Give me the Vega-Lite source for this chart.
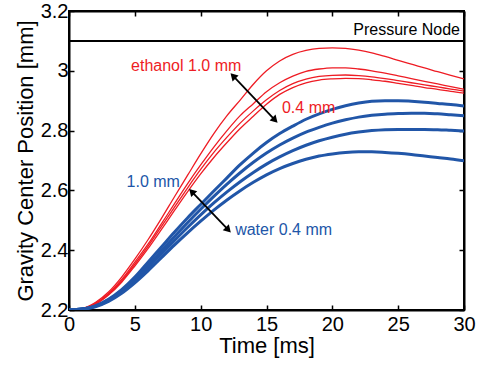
{
  "$schema": "https://vega.github.io/schema/vega-lite/v6.json",
  "width": 395,
  "height": 299,
  "autosize": {"type": "none"},
  "padding": {"left": 69, "top": 11, "right": 17, "bottom": 57},
  "background": "white",
  "config": {
    "view": {"stroke": "black", "strokeWidth": 2},
    "font": "Liberation Sans",
    "axis": {
      "domainColor": "black", "domainWidth": 2,
      "tickColor": "black", "tickWidth": 1.5, "tickSize": -5,
      "labelColor": "black", "titleColor": "black",
      "labelFont": "Liberation Sans", "titleFont": "Liberation Sans",
      "labelFontSize": 20, "titleFontSize": 22, "titleFontWeight": "normal",
      "grid": false, "labelFlush": false, "labelOverlap": false
    }
  },
  "datasets": {
    "curves": [
      {"s":"R1","f":"ethanol","t":0,"v":2.2},{"s":"R1","f":"ethanol","t":1,"v":2.205},{"s":"R1","f":"ethanol","t":2,"v":2.225},{"s":"R1","f":"ethanol","t":3,"v":2.26},{"s":"R1","f":"ethanol","t":4,"v":2.31},{"s":"R1","f":"ethanol","t":5,"v":2.37},{"s":"R1","f":"ethanol","t":6,"v":2.435},{"s":"R1","f":"ethanol","t":7,"v":2.505},{"s":"R1","f":"ethanol","t":8,"v":2.578},{"s":"R1","f":"ethanol","t":9,"v":2.65},{"s":"R1","f":"ethanol","t":10,"v":2.722},{"s":"R1","f":"ethanol","t":11,"v":2.79},{"s":"R1","f":"ethanol","t":12,"v":2.85},{"s":"R1","f":"ethanol","t":13,"v":2.902},{"s":"R1","f":"ethanol","t":14,"v":2.955},{"s":"R1","f":"ethanol","t":15,"v":3.0},{"s":"R1","f":"ethanol","t":16,"v":3.033},{"s":"R1","f":"ethanol","t":17,"v":3.055},{"s":"R1","f":"ethanol","t":18,"v":3.068},{"s":"R1","f":"ethanol","t":19,"v":3.075},{"s":"R1","f":"ethanol","t":20,"v":3.077},{"s":"R1","f":"ethanol","t":21,"v":3.075},{"s":"R1","f":"ethanol","t":22,"v":3.069},{"s":"R1","f":"ethanol","t":23,"v":3.06},{"s":"R1","f":"ethanol","t":24,"v":3.048},{"s":"R1","f":"ethanol","t":25,"v":3.035},{"s":"R1","f":"ethanol","t":26,"v":3.022},{"s":"R1","f":"ethanol","t":27,"v":3.01},{"s":"R1","f":"ethanol","t":28,"v":2.997},{"s":"R1","f":"ethanol","t":29,"v":2.985},{"s":"R1","f":"ethanol","t":30,"v":2.973},
      {"s":"R2","f":"ethanol","t":0,"v":2.2},{"s":"R2","f":"ethanol","t":1,"v":2.204},{"s":"R2","f":"ethanol","t":2,"v":2.222},{"s":"R2","f":"ethanol","t":3,"v":2.255},{"s":"R2","f":"ethanol","t":4,"v":2.302},{"s":"R2","f":"ethanol","t":5,"v":2.36},{"s":"R2","f":"ethanol","t":6,"v":2.42},{"s":"R2","f":"ethanol","t":7,"v":2.487},{"s":"R2","f":"ethanol","t":8,"v":2.555},{"s":"R2","f":"ethanol","t":9,"v":2.622},{"s":"R2","f":"ethanol","t":10,"v":2.685},{"s":"R2","f":"ethanol","t":11,"v":2.745},{"s":"R2","f":"ethanol","t":12,"v":2.8},{"s":"R2","f":"ethanol","t":13,"v":2.85},{"s":"R2","f":"ethanol","t":14,"v":2.89},{"s":"R2","f":"ethanol","t":15,"v":2.93},{"s":"R2","f":"ethanol","t":16,"v":2.96},{"s":"R2","f":"ethanol","t":17,"v":2.982},{"s":"R2","f":"ethanol","t":18,"v":2.998},{"s":"R2","f":"ethanol","t":19,"v":3.006},{"s":"R2","f":"ethanol","t":20,"v":3.01},{"s":"R2","f":"ethanol","t":21,"v":3.01},{"s":"R2","f":"ethanol","t":22,"v":3.006},{"s":"R2","f":"ethanol","t":23,"v":3.0},{"s":"R2","f":"ethanol","t":24,"v":2.992},{"s":"R2","f":"ethanol","t":25,"v":2.983},{"s":"R2","f":"ethanol","t":26,"v":2.974},{"s":"R2","f":"ethanol","t":27,"v":2.965},{"s":"R2","f":"ethanol","t":28,"v":2.956},{"s":"R2","f":"ethanol","t":29,"v":2.947},{"s":"R2","f":"ethanol","t":30,"v":2.938},
      {"s":"R3","f":"ethanol","t":0,"v":2.2},{"s":"R3","f":"ethanol","t":1,"v":2.204},{"s":"R3","f":"ethanol","t":2,"v":2.22},{"s":"R3","f":"ethanol","t":3,"v":2.252},{"s":"R3","f":"ethanol","t":4,"v":2.297},{"s":"R3","f":"ethanol","t":5,"v":2.353},{"s":"R3","f":"ethanol","t":6,"v":2.413},{"s":"R3","f":"ethanol","t":7,"v":2.478},{"s":"R3","f":"ethanol","t":8,"v":2.543},{"s":"R3","f":"ethanol","t":9,"v":2.608},{"s":"R3","f":"ethanol","t":10,"v":2.67},{"s":"R3","f":"ethanol","t":11,"v":2.727},{"s":"R3","f":"ethanol","t":12,"v":2.778},{"s":"R3","f":"ethanol","t":13,"v":2.825},{"s":"R3","f":"ethanol","t":14,"v":2.866},{"s":"R3","f":"ethanol","t":15,"v":2.903},{"s":"R3","f":"ethanol","t":16,"v":2.934},{"s":"R3","f":"ethanol","t":17,"v":2.957},{"s":"R3","f":"ethanol","t":18,"v":2.972},{"s":"R3","f":"ethanol","t":19,"v":2.981},{"s":"R3","f":"ethanol","t":20,"v":2.985},{"s":"R3","f":"ethanol","t":21,"v":2.986},{"s":"R3","f":"ethanol","t":22,"v":2.984},{"s":"R3","f":"ethanol","t":23,"v":2.98},{"s":"R3","f":"ethanol","t":24,"v":2.974},{"s":"R3","f":"ethanol","t":25,"v":2.967},{"s":"R3","f":"ethanol","t":26,"v":2.96},{"s":"R3","f":"ethanol","t":27,"v":2.953},{"s":"R3","f":"ethanol","t":28,"v":2.946},{"s":"R3","f":"ethanol","t":29,"v":2.939},{"s":"R3","f":"ethanol","t":30,"v":2.932},
      {"s":"R4","f":"ethanol","t":0,"v":2.2},{"s":"R4","f":"ethanol","t":1,"v":2.204},{"s":"R4","f":"ethanol","t":2,"v":2.219},{"s":"R4","f":"ethanol","t":3,"v":2.25},{"s":"R4","f":"ethanol","t":4,"v":2.293},{"s":"R4","f":"ethanol","t":5,"v":2.347},{"s":"R4","f":"ethanol","t":6,"v":2.405},{"s":"R4","f":"ethanol","t":7,"v":2.468},{"s":"R4","f":"ethanol","t":8,"v":2.532},{"s":"R4","f":"ethanol","t":9,"v":2.595},{"s":"R4","f":"ethanol","t":10,"v":2.655},{"s":"R4","f":"ethanol","t":11,"v":2.71},{"s":"R4","f":"ethanol","t":12,"v":2.76},{"s":"R4","f":"ethanol","t":13,"v":2.807},{"s":"R4","f":"ethanol","t":14,"v":2.848},{"s":"R4","f":"ethanol","t":15,"v":2.888},{"s":"R4","f":"ethanol","t":16,"v":2.921},{"s":"R4","f":"ethanol","t":17,"v":2.944},{"s":"R4","f":"ethanol","t":18,"v":2.96},{"s":"R4","f":"ethanol","t":19,"v":2.969},{"s":"R4","f":"ethanol","t":20,"v":2.973},{"s":"R4","f":"ethanol","t":21,"v":2.975},{"s":"R4","f":"ethanol","t":22,"v":2.974},{"s":"R4","f":"ethanol","t":23,"v":2.97},{"s":"R4","f":"ethanol","t":24,"v":2.965},{"s":"R4","f":"ethanol","t":25,"v":2.958},{"s":"R4","f":"ethanol","t":26,"v":2.951},{"s":"R4","f":"ethanol","t":27,"v":2.944},{"s":"R4","f":"ethanol","t":28,"v":2.938},{"s":"R4","f":"ethanol","t":29,"v":2.931},{"s":"R4","f":"ethanol","t":30,"v":2.925},
      {"s":"B1","f":"water","t":0,"v":2.2},{"s":"B1","f":"water","t":1,"v":2.203},{"s":"B1","f":"water","t":2,"v":2.214},{"s":"B1","f":"water","t":3,"v":2.236},{"s":"B1","f":"water","t":4,"v":2.268},{"s":"B1","f":"water","t":5,"v":2.31},{"s":"B1","f":"water","t":6,"v":2.36},{"s":"B1","f":"water","t":7,"v":2.41},{"s":"B1","f":"water","t":8,"v":2.46},{"s":"B1","f":"water","t":9,"v":2.508},{"s":"B1","f":"water","t":10,"v":2.553},{"s":"B1","f":"water","t":11,"v":2.598},{"s":"B1","f":"water","t":12,"v":2.642},{"s":"B1","f":"water","t":13,"v":2.686},{"s":"B1","f":"water","t":14,"v":2.725},{"s":"B1","f":"water","t":15,"v":2.76},{"s":"B1","f":"water","t":16,"v":2.79},{"s":"B1","f":"water","t":17,"v":2.815},{"s":"B1","f":"water","t":18,"v":2.838},{"s":"B1","f":"water","t":19,"v":2.856},{"s":"B1","f":"water","t":20,"v":2.871},{"s":"B1","f":"water","t":21,"v":2.883},{"s":"B1","f":"water","t":22,"v":2.892},{"s":"B1","f":"water","t":23,"v":2.898},{"s":"B1","f":"water","t":24,"v":2.9},{"s":"B1","f":"water","t":25,"v":2.9},{"s":"B1","f":"water","t":26,"v":2.898},{"s":"B1","f":"water","t":27,"v":2.895},{"s":"B1","f":"water","t":28,"v":2.891},{"s":"B1","f":"water","t":29,"v":2.887},{"s":"B1","f":"water","t":30,"v":2.882},
      {"s":"B2","f":"water","t":0,"v":2.2},{"s":"B2","f":"water","t":1,"v":2.203},{"s":"B2","f":"water","t":2,"v":2.213},{"s":"B2","f":"water","t":3,"v":2.234},{"s":"B2","f":"water","t":4,"v":2.264},{"s":"B2","f":"water","t":5,"v":2.303},{"s":"B2","f":"water","t":6,"v":2.349},{"s":"B2","f":"water","t":7,"v":2.397},{"s":"B2","f":"water","t":8,"v":2.445},{"s":"B2","f":"water","t":9,"v":2.492},{"s":"B2","f":"water","t":10,"v":2.537},{"s":"B2","f":"water","t":11,"v":2.58},{"s":"B2","f":"water","t":12,"v":2.621},{"s":"B2","f":"water","t":13,"v":2.659},{"s":"B2","f":"water","t":14,"v":2.694},{"s":"B2","f":"water","t":15,"v":2.725},{"s":"B2","f":"water","t":16,"v":2.752},{"s":"B2","f":"water","t":17,"v":2.775},{"s":"B2","f":"water","t":18,"v":2.795},{"s":"B2","f":"water","t":19,"v":2.811},{"s":"B2","f":"water","t":20,"v":2.825},{"s":"B2","f":"water","t":21,"v":2.836},{"s":"B2","f":"water","t":22,"v":2.845},{"s":"B2","f":"water","t":23,"v":2.851},{"s":"B2","f":"water","t":24,"v":2.855},{"s":"B2","f":"water","t":25,"v":2.857},{"s":"B2","f":"water","t":26,"v":2.858},{"s":"B2","f":"water","t":27,"v":2.858},{"s":"B2","f":"water","t":28,"v":2.856},{"s":"B2","f":"water","t":29,"v":2.853},{"s":"B2","f":"water","t":30,"v":2.85},
      {"s":"B3","f":"water","t":0,"v":2.2},{"s":"B3","f":"water","t":1,"v":2.203},{"s":"B3","f":"water","t":2,"v":2.212},{"s":"B3","f":"water","t":3,"v":2.232},{"s":"B3","f":"water","t":4,"v":2.261},{"s":"B3","f":"water","t":5,"v":2.298},{"s":"B3","f":"water","t":6,"v":2.341},{"s":"B3","f":"water","t":7,"v":2.387},{"s":"B3","f":"water","t":8,"v":2.432},{"s":"B3","f":"water","t":9,"v":2.476},{"s":"B3","f":"water","t":10,"v":2.518},{"s":"B3","f":"water","t":11,"v":2.558},{"s":"B3","f":"water","t":12,"v":2.595},{"s":"B3","f":"water","t":13,"v":2.629},{"s":"B3","f":"water","t":14,"v":2.66},{"s":"B3","f":"water","t":15,"v":2.688},{"s":"B3","f":"water","t":16,"v":2.712},{"s":"B3","f":"water","t":17,"v":2.733},{"s":"B3","f":"water","t":18,"v":2.751},{"s":"B3","f":"water","t":19,"v":2.766},{"s":"B3","f":"water","t":20,"v":2.778},{"s":"B3","f":"water","t":21,"v":2.788},{"s":"B3","f":"water","t":22,"v":2.795},{"s":"B3","f":"water","t":23,"v":2.8},{"s":"B3","f":"water","t":24,"v":2.803},{"s":"B3","f":"water","t":25,"v":2.804},{"s":"B3","f":"water","t":26,"v":2.804},{"s":"B3","f":"water","t":27,"v":2.804},{"s":"B3","f":"water","t":28,"v":2.803},{"s":"B3","f":"water","t":29,"v":2.801},{"s":"B3","f":"water","t":30,"v":2.799},
      {"s":"B4","f":"water","t":0,"v":2.2},{"s":"B4","f":"water","t":1,"v":2.203},{"s":"B4","f":"water","t":2,"v":2.211},{"s":"B4","f":"water","t":3,"v":2.229},{"s":"B4","f":"water","t":4,"v":2.256},{"s":"B4","f":"water","t":5,"v":2.291},{"s":"B4","f":"water","t":6,"v":2.331},{"s":"B4","f":"water","t":7,"v":2.374},{"s":"B4","f":"water","t":8,"v":2.417},{"s":"B4","f":"water","t":9,"v":2.458},{"s":"B4","f":"water","t":10,"v":2.497},{"s":"B4","f":"water","t":11,"v":2.534},{"s":"B4","f":"water","t":12,"v":2.568},{"s":"B4","f":"water","t":13,"v":2.599},{"s":"B4","f":"water","t":14,"v":2.627},{"s":"B4","f":"water","t":15,"v":2.652},{"s":"B4","f":"water","t":16,"v":2.673},{"s":"B4","f":"water","t":17,"v":2.69},{"s":"B4","f":"water","t":18,"v":2.704},{"s":"B4","f":"water","t":19,"v":2.715},{"s":"B4","f":"water","t":20,"v":2.722},{"s":"B4","f":"water","t":21,"v":2.727},{"s":"B4","f":"water","t":22,"v":2.729},{"s":"B4","f":"water","t":23,"v":2.729},{"s":"B4","f":"water","t":24,"v":2.727},{"s":"B4","f":"water","t":25,"v":2.724},{"s":"B4","f":"water","t":26,"v":2.72},{"s":"B4","f":"water","t":27,"v":2.715},{"s":"B4","f":"water","t":28,"v":2.71},{"s":"B4","f":"water","t":29,"v":2.705},{"s":"B4","f":"water","t":30,"v":2.699}
    ],
    "labels": [
      {"t": 8.9, "v": 3.0, "label": "ethanol 1.0 mm", "f": "ethanol"},
      {"t": 18.2, "v": 2.86, "label": "0.4 mm", "f": "ethanol"},
      {"t": 6.4, "v": 2.61, "label": "1.0 mm", "f": "water"},
      {"t": 16.3, "v": 2.451, "label": "water 0.4 mm", "f": "water"}
    ],
    "arrows": [
      {"t": 12.46, "v": 2.983, "t2": 15.65, "v2": 2.835},
      {"t": 9.32, "v": 2.596, "t2": 12.1, "v2": 2.468}
    ],
    "node": [
      {"t": 30, "v": 3.1, "label": "Pressure Node"}
    ]
  },
  "layer": [
    {
      "data": {"name": "curves"},
      "mark": {"type": "line", "interpolate": "monotone", "clip": true},
      "encoding": {
        "x": {"field": "t", "type": "quantitative", "scale": {"domain": [0, 30], "nice": false},
              "axis": {"values": [0, 5, 10, 15, 20, 25, 30], "title": "Time [ms]", "labelPadding": 9, "titlePadding": 1}},
        "y": {"field": "v", "type": "quantitative", "scale": {"domain": [2.2, 3.2], "nice": false, "zero": false},
              "axis": {"values": [2.2, 2.4, 2.6, 2.8, 3, 3.2], "format": "~g", "title": "Gravity Center Position [mm]", "labelPadding": 6, "titlePadding": 3}},
        "detail": {"field": "s"},
        "color": {"field": "f", "type": "nominal", "scale": {"domain": ["ethanol", "water"], "range": ["#ee1c24", "#2156a8"]}, "legend": null},
        "strokeWidth": {"field": "f", "type": "nominal", "scale": {"domain": ["ethanol", "water"], "range": [1.3, 3]}, "legend": null}
      }
    },
    {
      "data": {"name": "node"},
      "mark": {"type": "rule", "color": "black", "strokeWidth": 2},
      "encoding": {"y": {"field": "v", "type": "quantitative", "axis": null}}
    },
    {
      "data": {"name": "node"},
      "mark": {"type": "text", "align": "right", "baseline": "alphabetic", "dx": -4, "dy": -6, "fontSize": 16, "font": "Liberation Sans", "color": "black"},
      "encoding": {
        "x": {"field": "t", "type": "quantitative", "axis": null},
        "y": {"field": "v", "type": "quantitative", "axis": null},
        "text": {"field": "label"}
      }
    },
    {
      "data": {"name": "labels"},
      "mark": {"type": "text", "align": "center", "baseline": "alphabetic", "fontSize": 16, "font": "Liberation Sans"},
      "encoding": {
        "x": {"field": "t", "type": "quantitative", "axis": null},
        "y": {"field": "v", "type": "quantitative", "axis": null},
        "text": {"field": "label"},
        "color": {"field": "f", "type": "nominal", "legend": null}
      }
    },
    {
      "data": {"name": "arrows"},
      "mark": {"type": "rule", "color": "black", "strokeWidth": 1.8},
      "encoding": {
        "x": {"field": "t", "type": "quantitative",
              "axis": {"orient": "top", "values": [0, 5, 10, 15, 20, 25, 30], "labels": false, "title": null}},
        "y": {"field": "v", "type": "quantitative",
              "axis": {"orient": "right", "values": [2.2, 2.4, 2.6, 2.8, 3, 3.2], "labels": false, "title": null}},
        "x2": {"field": "t2"},
        "y2": {"field": "v2"}
      }
    },
    {
      "data": {"name": "arrows"},
      "mark": {"type": "point", "shape": "triangle-up", "filled": true, "color": "black", "opacity": 1, "size": 70, "angle": 136},
      "encoding": {
        "x": {"field": "t2", "type": "quantitative", "axis": null},
        "y": {"field": "v2", "type": "quantitative", "axis": null}
      }
    },
    {
      "data": {"name": "arrows"},
      "mark": {"type": "point", "shape": "triangle-up", "filled": true, "color": "black", "opacity": 1, "size": 70, "angle": 316},
      "encoding": {
        "x": {"field": "t", "type": "quantitative", "axis": null},
        "y": {"field": "v", "type": "quantitative", "axis": null}
      }
    }
  ],
  "resolve": {"axis": {"x": "independent", "y": "independent"}}
}
